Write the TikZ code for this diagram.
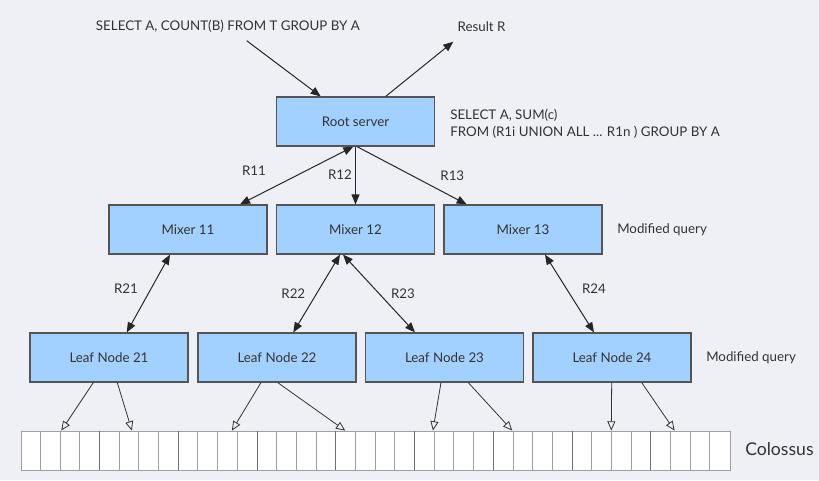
\documentclass[tikz,border=0pt]{standalone}
\usepackage{fontspec}
\setmainfont{Lato}
\usetikzlibrary{arrows.meta,calc}
\definecolor{bgc}{RGB}{239,240,246}
\definecolor{boxfill}{RGB}{163,209,255}
\definecolor{boxline}{RGB}{85,85,85}
\definecolor{txt}{RGB}{51,51,51}
\definecolor{cellline}{RGB}{160,160,160}
\definecolor{celldark}{RGB}{110,110,110}
\begin{document}
\begin{tikzpicture}[x=0.75pt,y=-0.75pt,
  box/.style={draw=boxline,fill=boxfill,line width=0.9pt,minimum width=118.5pt,minimum height=36.75pt,inner sep=0pt,font=\fontsize{10}{12}\selectfont,text=txt},
  lbl/.style={font=\fontsize{10}{12}\selectfont,text=txt,inner sep=0pt},
  conn/.style={draw=black!85,line width=0.75pt,-{Triangle[length=7.5pt,width=6pt]}},
  dconn/.style={draw=black!85,line width=0.75pt,{Triangle[length=7.5pt,width=6pt]}-{Triangle[length=7.5pt,width=6pt]}},
  sconn/.style={draw=black!80,line width=0.6pt,-{Triangle[open,length=7pt,width=6pt]}}]
\fill[bgc] (0,0) rectangle (819,480);
\useasboundingbox (0,0) rectangle (819,480);

% boxes
\node[box] (root) at (355.5,121.5) {Root server};
\node[box] (m11) at (188,229.5) {Mixer 11};
\node[box] (m12) at (355.5,229.5) {Mixer 12};
\node[box] (m13) at (523,229.5) {Mixer 13};
\node[box] (l21) at (109,357.5) {Leaf Node 21};
\node[box] (l22) at (277,357.5) {Leaf Node 22};
\node[box] (l23) at (444.5,357.5) {Leaf Node 23};
\node[box] (l24) at (612,357.5) {Leaf Node 24};

% storage strip
\node[draw=cellline,fill=white,minimum width=531.75pt,minimum height=29.25pt,inner sep=0pt,line width=0.6pt] (store) at (375.5,450.5) {};
\foreach \i in {1,...,35}{
  \draw[cellline,line width=0.6pt] ($(store.north west)+(\i*19.694,0)$) -- ($(store.south west)+(\i*19.694,0)$);
}
\foreach \i in {4,8,...,32}{
  \draw[celldark,line width=0.6pt] ($(store.north west)+(\i*19.694,0)$) -- ($(store.south west)+(\i*19.694,0)$);
}

% texts
\node[lbl,anchor=west] (q) at (95.7,26.7) {SELECT A, COUNT(B) FROM T GROUP BY A};
\node[lbl,anchor=west] (res) at (457.3,26.5) {Result R};
\node[lbl,anchor=west,align=left,font=\fontsize{10}{13}\selectfont] (agg) at (450,123.7) {SELECT A, SUM(c)\\FROM (R1i UNION ALL ... R1n ) GROUP BY A};
\node[lbl,anchor=west] (mq1) at (617,230) {Modified query};
\node[lbl,anchor=west] (mq2) at (706,357.7) {Modified query};
\node[lbl,anchor=west,font=\fontsize{13.2}{15}\selectfont] (col) at (745,449) {Colossus};

\node[lbl] (r11) at (254,170.7) {R11};
\node[lbl] (r12) at (340,175) {R12};
\node[lbl] (r13) at (452.3,175.7) {R13};
\node[lbl] (r21) at (126,288.3) {R21};
\node[lbl] (r22) at (293.3,294) {R22};
\node[lbl] (r23) at (403,294) {R23};
\node[lbl] (r24) at (594,288.3) {R24};

% top arrows
\coordinate (qs) at (246.7,40.7);
\coordinate (rs) at (453.3,41.7);
\draw[conn] (qs) -- ($(root.north)+(-34.8,0)$);
\draw[conn] ($(root.north)+(30.2,0)$) -- (rs);

% root to mixers
\draw[dconn] ($(root.south)+(-2.2,0)$) -- ($(m11.north)+(52,0)$);
\draw[conn] (root.south) -- (m12.north);
\draw[conn] ($(root.south)+(1.5,0)$) -- ($(m13.north)+(-56.3,0)$);

% mixers to leaves
\draw[dconn] ($(m11.south)+(-18,0)$) -- ($(l21.north)+(17.7,0)$);
\draw[dconn] ($(m12.south)+(-15.5,0)$) -- ($(l22.north)+(16.3,0)$);
\draw[dconn] ($(m12.south)+(-12.5,0)$) -- ($(l23.north)+(-29.5,0)$);
\draw[dconn] ($(m13.south)+(22,0)$) -- ($(l24.north)+(-18,0)$);

% leaves to storage
\draw[sconn] ($(l21.south)+(-15.7,0)$) -- ($(store.north west)+(40.7,0)$);
\draw[sconn] ($(l21.south)+(8.3,0)$) -- ($(store.north west)+(111.3,0)$);
\draw[sconn] ($(l22.south)+(-16,0)$) -- ($(store.north west)+(211.3,0)$);
\draw[sconn] ($(l22.south)+(0.7,0)$) -- ($(store.north west)+(324.7,0)$);
\draw[sconn] ($(l23.south)+(-3.5,0)$) -- ($(store.north west)+(412.3,0)$);
\draw[sconn] ($(l23.south)+(23.8,0)$) -- ($(store.north west)+(491.7,0)$);
\draw[sconn] ($(l24.south)+(-0.3,0)$) -- ($(store.north west)+(590.7,0)$);
\draw[sconn] ($(l24.south)+(29.7,0)$) -- ($(store.north west)+(654,0)$);
\end{tikzpicture}
\end{document}
